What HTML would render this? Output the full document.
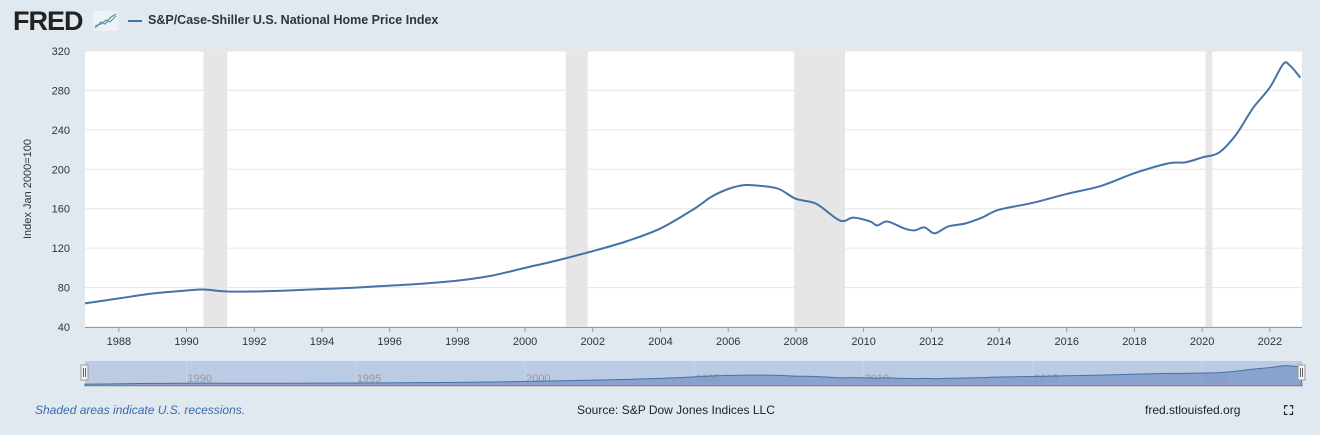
<!DOCTYPE html>
<html><head><meta charset="utf-8"><style>
body{margin:0;width:1320px;height:435px;background:#e1e9f0;font-family:"Liberation Sans",sans-serif;overflow:hidden;position:relative}
.t{position:absolute;white-space:nowrap}
</style></head><body>
<div class="t" style="left:13px;top:6px;font-size:27px;font-weight:bold;color:#222;letter-spacing:-1px">FRED</div>
<svg class="t" style="left:93px;top:11px" width="25" height="20"><rect width="25" height="20" fill="#eef2f5"/><polyline points="2,17 8,11 12,13 18,6 23,3" fill="none" stroke="#6a9" stroke-width="1.5"/><polyline points="2,15 8,13 13,9 17,11 23,5" fill="none" stroke="#58c" stroke-width="1"/></svg>
<div class="t" style="left:128px;top:20px;width:14px;height:2px;background:#4572a7"></div>
<div class="t" style="left:148px;top:13px;font-size:12.5px;font-weight:bold;color:#333">S&amp;P/Case-Shiller U.S. National Home Price Index</div>
<svg id="c" class="t" style="left:0;top:0" width="1320" height="435"></svg>
<div class="t" style="left:35px;top:403px;font-size:12px;font-style:italic;color:#3a6aa8">Shaded areas indicate U.S. recessions.</div>
<div class="t" style="left:577px;top:403px;font-size:12px;color:#222">Source: S&amp;P Dow Jones Indices LLC</div>
<div class="t" style="left:1145px;top:403px;font-size:12px;color:#222">fred.stlouisfed.org</div>
<div class="t" style="left:1284px;top:403px;font-size:13px;color:#222;font-weight:bold">⛶</div>
<script>
const years=[1987,1988,1989,1990,1990.5,1991.2,1992,1993,1994,1995,1996,1997,1998,1999,2000,2001,2002,2003,2004,2005,2005.5,2006,2006.5,2007,2007.5,2008,2008.6,2009.3,2009.7,2010.2,2010.4,2010.7,2011.2,2011.5,2011.8,2012.1,2012.5,2013,2013.5,2014,2015,2016,2017,2018,2019,2019.5,2020,2020.5,2021,2021.5,2022,2022.4,2022.6,2022.9];
const values=[64,69,74,77,78,76,76,77,78.5,80,82,84,87,92,100,108,117,127,140,160,172,180,184,183,180,170,165,148,151,147,143,147,140,138,141,135,142,145,151,159,166,175,183,196,206,207,212,217,235,262,283,307,305,293];
const recessions=[[1990.5,1991.2],[2001.2,2001.85],[2007.95,2009.45],[2020.1,2020.3]];
const yTicks=[40,80,120,160,200,240,280,320];
const xTicks=[1988,1990,1992,1994,1996,1998,2000,2002,2004,2006,2008,2010,2012,2014,2016,2018,2020,2022];
const navTicks=[1990,1995,2000,2005,2010,2015,2020];
const NS="http://www.w3.org/2000/svg",svg=document.getElementById('c');
const X0=85,X1=1302,Y0=51,Y1=327,xmin=1987,xmax=2022.95;
const xs=v=>X0+(v-xmin)/(xmax-xmin)*(X1-X0);
const ys=v=>Y1-(v-40)/280*(Y1-Y0);
function el(t,a,txt){const e=document.createElementNS(NS,t);for(const k in a)e.setAttribute(k,a[k]);if(txt!=null)e.textContent=txt;svg.appendChild(e);return e;}
let e=el('rect',{x:X0,y:Y0,width:X1-X0,height:Y1-Y0,fill:'#fff'});

recessions.forEach(r=>{const e=el('rect',{x:xs(r[0]),y:Y0,width:xs(r[1])-xs(r[0]),height:Y1-Y0,fill:'#e6e6e6'});
});
yTicks.forEach(v=>{const g=el('line',{x1:X0,x2:X1,y1:ys(v),y2:ys(v),stroke:'#e6e6e6'});

const t=el('text',{x:70,y:ys(v)+4,'text-anchor':'end','font-size':11,fill:'#333'},v);
});
el('line',{x1:X0,x2:X1,y1:Y1+.5,y2:Y1+.5,stroke:'#999'});
xTicks.forEach(v=>{el('line',{x1:xs(v),x2:xs(v),y1:Y1,y2:Y1+5,stroke:'#999'});
const t=el('text',{x:xs(v),y:345,'text-anchor':'middle','font-size':11,fill:'#333'},v);
});
e=el('text',{transform:'translate(31,189) rotate(-90)','text-anchor':'middle','font-size':11,fill:'#333'},'Index Jan 2000=100');

function smooth(P){let d='M'+P[0][0]+','+P[0][1];for(let i=0;i<P.length-1;i++){const p0=P[i-1]||P[i],p1=P[i],p2=P[i+1],p3=P[i+2]||p2;
d+=` C${p1[0]+(p2[0]-p0[0])/6},${p1[1]+(p2[1]-p0[1])/6} ${p2[0]-(p3[0]-p1[0])/6},${p2[1]-(p3[1]-p1[1])/6} ${p2[0]},${p2[1]}`;}return d;}
e=el('path',{d:smooth(years.map((y,i)=>[xs(y),ys(values[i])])),fill:'none',stroke:'#4572a7','stroke-width':2});

// navigator
const NY0=361,NY1=386,nys=v=>NY1-(v-40)/290*(NY1-NY0-3);
e=el('rect',{x:X0,y:NY0,width:X1-X0,height:NY1-NY0,fill:'#bccbe4'});

navTicks.forEach(v=>{el('line',{x1:xs(v),x2:xs(v),y1:NY0,y2:NY1,stroke:'#c6d2e6'});
const t=el('text',{x:xs(v)+1,y:382,'font-size':11,fill:'#999'},v);});
const NP=years.map((y,i)=>[xs(y),nys(values[i])]);
e=el('path',{d:smooth(NP)+` L${X1},${NY1} L${X0},${NY1} Z`,fill:'#7d99c8','fill-opacity':.8,stroke:'#4572a7'});

el('line',{x1:X0,x2:X1,y1:NY1+.5,y2:NY1+.5,stroke:'#ccc'});
[X0-1,X1-1].forEach(x=>{const h=el('rect',{x:x-3,y:365,width:7,height:15,fill:'#f2f2f2',stroke:'#999'});

el('line',{x1:x-0.5,x2:x-0.5,y1:368,y2:377,stroke:'#666'});el('line',{x1:x+1.5,x2:x+1.5,y1:368,y2:377,stroke:'#666'});});
</script>
</body></html>
